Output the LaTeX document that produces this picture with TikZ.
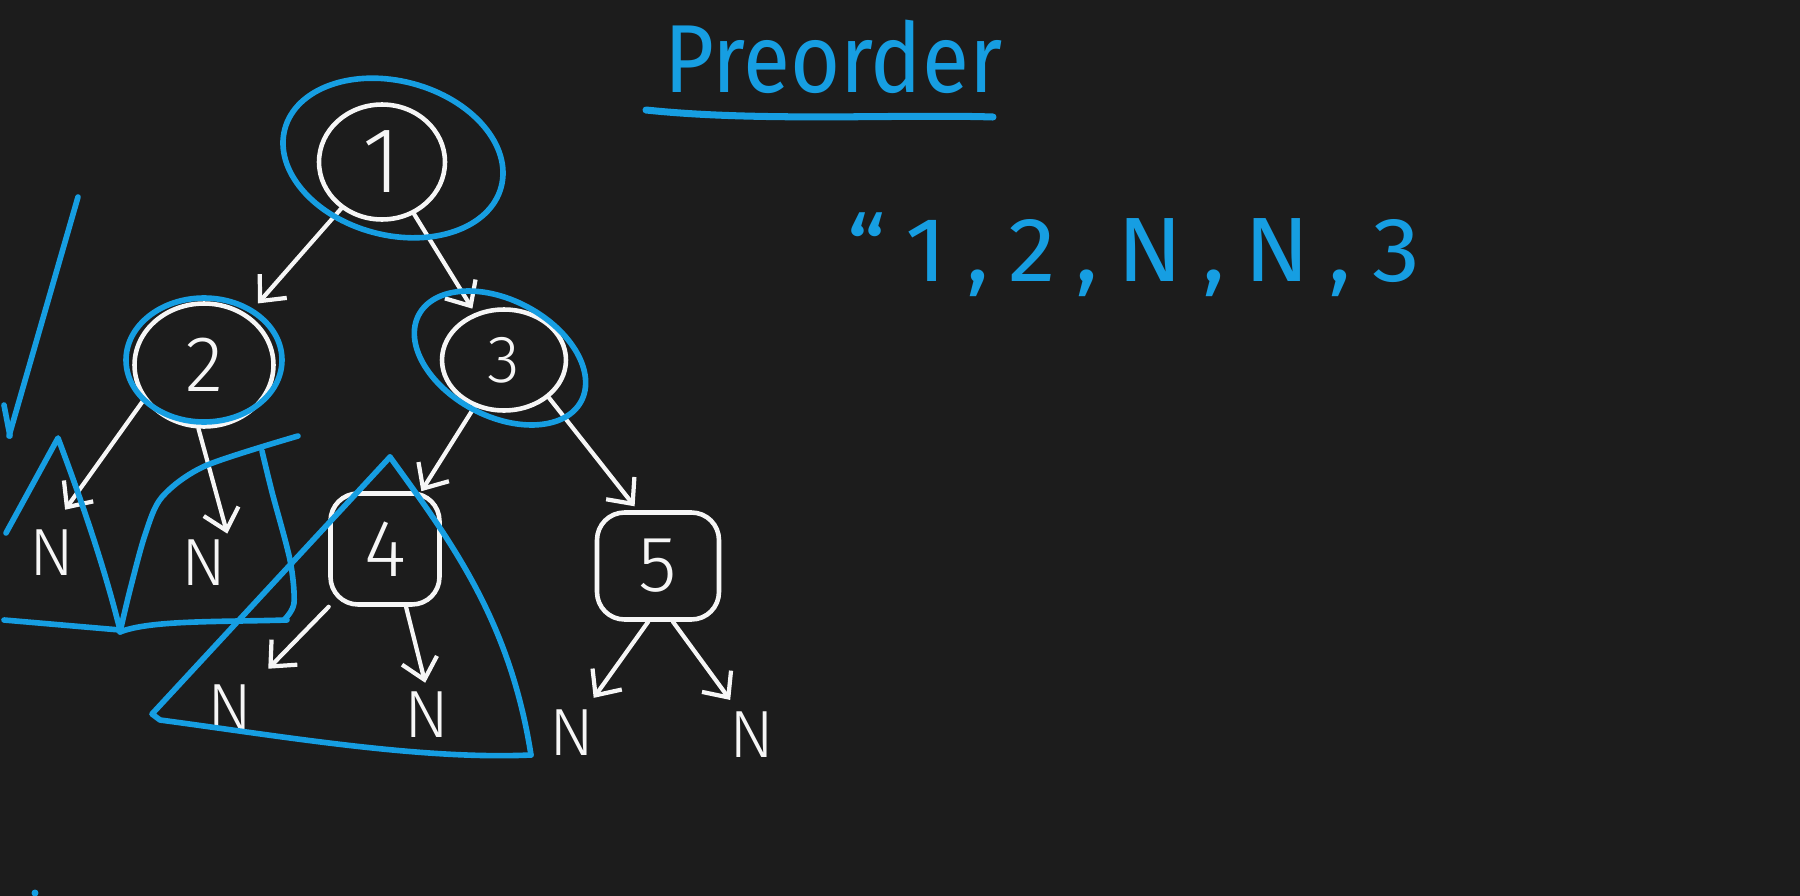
\documentclass[tikz,border=0pt]{standalone}
\usepackage{fontspec}
\newfontfamily\hand{Fira Sans Light}
\newfontfamily\handb{Fira Sans}
\usetikzlibrary{arrows.meta,shapes.geometric}
\definecolor{bg}{RGB}{28,28,28}
\definecolor{hb}{RGB}{22,158,226}
\definecolor{wh}{RGB}{246,246,246}
\tikzset{
  wnode/.style={draw=wh, line width=2.6pt, text=wh, inner sep=0pt},
  cnode/.style={wnode, ellipse},
  snode/.style={wnode, rectangle, rounded corners=0.55cm},
  nlab/.style={text=wh, inner sep=1pt, font=\hand\fontsize{38}{38}\selectfont},
  arr/.style={draw=wh, line width=2.4pt, line cap=round, -{Straight Barb[length=0.4cm, width=0.72cm]}},
  hl/.style={draw=hb, line width=3.2pt, line cap=round, line join=round},
  btext/.style={text=hb, anchor=base west, inner sep=0pt},
}
\begin{document}
\begin{tikzpicture}[x=0.02cm,y=-0.02cm]
\useasboundingbox (0,0) rectangle (1800,896);
\fill[bg] (0,0) rectangle (1800,896);

% tree nodes
\node[cnode, minimum width=2.52cm, minimum height=2.3cm, font=\hand\fontsize{53}{53}\selectfont] (n1) at (382,162) {1};
\node[cnode, minimum width=2.78cm, minimum height=2.46cm, font=\hand\fontsize{45}{45}\selectfont] (n2) at (204,365) {2};
\node[cnode, minimum width=2.48cm, minimum height=2.02cm, font=\hand\fontsize{38}{38}\selectfont] (n3) at (504,360) {3};
\node[snode, minimum width=2.18cm, minimum height=2.22cm, font=\hand\fontsize{46}{46}\selectfont] (n4) at (385,549) {4};
\node[snode, minimum width=2.44cm, minimum height=2.14cm, font=\hand\fontsize{45}{45}\selectfont] (n5) at (658,566) {5};

% null leaves
\node[nlab] (l2) at (52,553) {N};
\node[nlab] (r2) at (204,563) {N};
\node[nlab] (l4) at (230,708) {N};
\node[nlab] (r4) at (427,715) {N};
\node[nlab] (l5) at (572,733) {N};
\node[nlab] (r5) at (752,735) {N};

% connectors
\draw[arr, shorten >=0.3cm] (n1) -- (n2);
\draw[arr, shorten >=0.1cm] (n1) -- (n3);
\draw[arr, shorten >=0.45cm] (n2.210) -- (l2.north);
\draw[arr, shorten >=0.1cm] (n2.265) -- (r2.45);
\draw[arr] (n3) -- (n4);
\draw[arr, shorten >=0.1cm] (n3.-40) -- (n5.110);
\draw[arr, shorten >=0.4cm] (n4) -- (l4);
\draw[arr, shorten >=0.15cm] (n4.-70) -- (r4.north);
\draw[arr, shorten >=0.25cm] (n5.-100) -- (l5.60);
\draw[arr, shorten >=0.25cm] (n5.-75) -- (r5.120);

% blue highlights
\draw[hl, rotate around={-15:(393,158)}] (393,158) ellipse [x radius=2.24cm, y radius=1.54cm];
\draw[hl] (204,360) ellipse [x radius=1.56cm, y radius=1.24cm];
\draw[hl, rotate around={-28:(500,358)}] (500,358) ellipse [x radius=1.84cm, y radius=1.16cm];

\draw[hl] (78,197) -- (9,436);
\draw[hl] (4,405) -- (10,436);

\draw[hl] (6,533) -- (58,438) .. controls (85,510) and (105,570) .. (120,630);
\draw[hl] (4,620) -- (120,630);

\draw[hl] plot[smooth] coordinates {(120,632) (130,590) (145,535) (162,497) (205,466) (298,436)};
\draw[hl] plot[smooth] coordinates {(262,451) (272,492) (290,560) (294,603) (284,620)};
\draw[hl] (120,632) .. controls (150,620) and (220,622) .. (287,620);

\draw[hl] (390,457) -- (152,714) -- (160,720) .. controls (280,736) and (420,760) .. (531,755);
\draw[hl] (390,457) .. controls (450,540) and (510,620) .. (531,755);

\fill[hb] (35,893) circle (0.07cm);

% text
\node[btext, font=\handb\fontsize{55}{55}\selectfont, xscale=0.89] (title) at (664,92) {Preorder};
\coordinate (u1) at (646,110);
\coordinate (u2) at (993,117);
\draw[hl, line width=4pt] (u1) .. controls (760,122) and (900,114) .. (u2);

\node[btext, font=\handb\fontsize{52}{52}\selectfont\addfontfeature{LetterSpace=20}, xscale=1.05] (seq) at (847,281) {“1,2,N,N,3};
\end{tikzpicture}
\end{document}
